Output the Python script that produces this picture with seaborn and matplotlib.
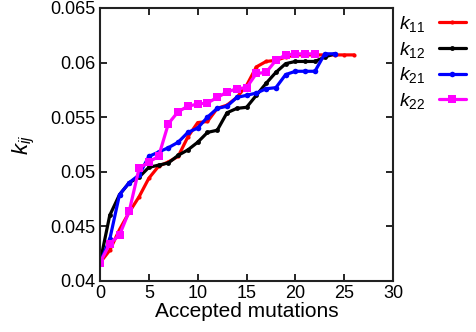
import pandas as pd
import seaborn as sns
import matplotlib.pyplot as plt

# values
k11 = [0.04165, 0.0428, 0.0447, 0.0463, 0.0477, 0.0494, 0.0505, 0.0509, 0.0514, 0.0532,
       0.0545, 0.0546, 0.0558, 0.0561, 0.0568, 0.0579, 0.0596, 0.0601, 0.0602, 0.0605,
       0.0607, 0.0607, 0.0607, 0.0607, 0.0607, 0.0607, 0.0607]
k12 = [0.04165, 0.0460, 0.0479, 0.0490, 0.0495, 0.0504, 0.0506, 0.0508, 0.0515, 0.0520,
       0.0527, 0.0536, 0.0538, 0.0554, 0.0558, 0.0559, 0.0570, 0.0581, 0.0591, 0.0599,
       0.0601, 0.0601, 0.0601, 0.0605, 0.0608]
k21 = [0.04165, 0.0438, 0.0479, 0.0490, 0.0497, 0.0514, 0.0518, 0.0522, 0.0527, 0.0536,
       0.0540, 0.0550, 0.0558, 0.0560, 0.0568, 0.0570, 0.0572, 0.0576, 0.0577, 0.0589,
       0.0592, 0.0592, 0.0592, 0.0608, 0.0608]
k22 = [0.04165, 0.0434, 0.0442, 0.0464, 0.0503, 0.0509, 0.0514, 0.0544, 0.0555, 0.0560,
       0.0562, 0.0563, 0.0568, 0.0573, 0.0576, 0.0577, 0.0590, 0.0591, 0.0602, 0.0607,
       0.0608, 0.0608, 0.0608]

series = {'$k_{11}$': k11, '$k_{12}$': k12, '$k_{21}$': k21, '$k_{22}$': k22}
colors = {'$k_{11}$': 'red', '$k_{12}$': 'black', '$k_{21}$': 'blue', '$k_{22}$': 'magenta'}
markers = {'$k_{11}$': 'o', '$k_{12}$': 'o', '$k_{21}$': 'o', '$k_{22}$': 's'}
msize = {'$k_{11}$': 3, '$k_{12}$': 3.5, '$k_{21}$': 4, '$k_{22}$': 6}

sns.set_style('ticks')
plt.rcParams['font.family'] = ['Liberation Sans', 'DejaVu Sans']
plt.rcParams['mathtext.fontset'] = 'custom'
plt.rcParams['mathtext.it'] = 'Liberation Sans:italic'
plt.rcParams['mathtext.rm'] = 'Liberation Sans'
plt.rcParams['text.color'] = 'black'
plt.rcParams['axes.labelcolor'] = 'black'

fig = plt.figure(figsize=(4.76, 3.32), dpi=100)
ax = fig.add_axes([0.21, 0.154, 0.616, 0.822])

for name, vals in series.items():
    df = pd.DataFrame({'x': range(len(vals)), 'y': vals})
    sns.lineplot(data=df, x='x', y='y', ax=ax, color=colors[name], lw=2.3,
                 marker=markers[name], markersize=msize[name],
                 markeredgewidth=0, label=name)

ax.set_xlim(0, 30)
ax.set_ylim(0.04, 0.065)
ax.set_xticks([0, 5, 10, 15, 20, 25, 30])
ax.set_yticks([0.04, 0.045, 0.05, 0.055, 0.06, 0.065])
ax.set_yticklabels(['0.04', '0.045', '0.05', '0.055', '0.06', '0.065'])
ax.tick_params(direction='in', top=True, right=True, labelsize=13, length=5,
               width=1.2, colors='black', pad=3)
for s in ax.spines.values():
    s.set_linewidth(1.5)
    s.set_color('#222222')
ax.set_xlabel('Accepted mutations', fontsize=15, labelpad=0)
ax.set_ylabel('$k_{ij}$', fontsize=16, labelpad=10)

ax.legend(loc='upper left', bbox_to_anchor=(1.0, 1.0), frameon=False,
          markerfirst=False, fontsize=14, handlelength=1.4, labelspacing=0.3,
          borderaxespad=0.3, borderpad=0.0, handletextpad=0.7)

fig.savefig('out.png', dpi=100)
